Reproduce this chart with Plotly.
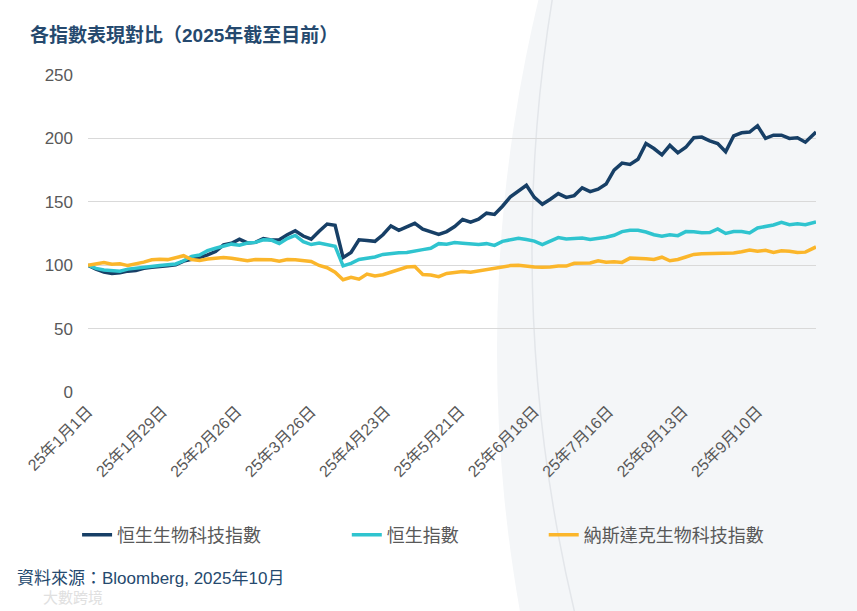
"""Index performance comparison, 2025 YTD (rebased to 100).

Hang Seng Biotech vs Hang Seng Index vs Nasdaq Biotech, written to out.html.
"""
import plotly.graph_objects as go

DATES = [
    "2025-01-01", "2025-01-04", "2025-01-07", "2025-01-10", "2025-01-13", "2025-01-16",
    "2025-01-19", "2025-01-22", "2025-01-25", "2025-01-28", "2025-01-31", "2025-02-03",
    "2025-02-06", "2025-02-09", "2025-02-12", "2025-02-15", "2025-02-18", "2025-02-21",
    "2025-02-24", "2025-02-27", "2025-03-02", "2025-03-05", "2025-03-08", "2025-03-11",
    "2025-03-14", "2025-03-17", "2025-03-20", "2025-03-23", "2025-03-26", "2025-03-29",
    "2025-04-01", "2025-04-04", "2025-04-07", "2025-04-10", "2025-04-13", "2025-04-16",
    "2025-04-19", "2025-04-22", "2025-04-25", "2025-04-28", "2025-05-01", "2025-05-04",
    "2025-05-07", "2025-05-10", "2025-05-13", "2025-05-16", "2025-05-19", "2025-05-22",
    "2025-05-25", "2025-05-28", "2025-05-31", "2025-06-03", "2025-06-06", "2025-06-09",
    "2025-06-12", "2025-06-15", "2025-06-18", "2025-06-21", "2025-06-24", "2025-06-27",
    "2025-06-30", "2025-07-03", "2025-07-06", "2025-07-09", "2025-07-12", "2025-07-15",
    "2025-07-18", "2025-07-21", "2025-07-24", "2025-07-27", "2025-07-30", "2025-08-02",
    "2025-08-05", "2025-08-08", "2025-08-11", "2025-08-14", "2025-08-17", "2025-08-20",
    "2025-08-23", "2025-08-26", "2025-08-29", "2025-09-01", "2025-09-04", "2025-09-07",
    "2025-09-10", "2025-09-13", "2025-09-16", "2025-09-19", "2025-09-22", "2025-09-25",
    "2025-09-28", "2025-10-02",
]

# 恒生生物科技指數
HS_BIOTECH = [
    100, 96.8, 94.5, 93.5, 94, 95.3, 95.8, 97.5, 98.4, 98.8, 99.5, 100.3,
    103.2, 104.6, 106, 108.2, 110.8, 116, 117.3, 120.5, 117.6, 118, 121, 119.8,
    120, 124, 127.2, 123, 120.5, 126.8, 132.5, 131.5, 106, 110, 120, 119.5,
    118.8, 124, 131, 127.5, 130, 133, 128.5, 126.5, 124.3, 126.5, 130.5, 136,
    134, 136.3, 141, 140, 146.5, 154, 158.5, 163, 153.5, 148, 152, 156.5,
    153.5, 154.9, 161, 158, 160, 164, 175, 180.5, 179.4, 183.5, 196, 192,
    187, 194.5, 188.6, 193, 200.5, 201, 198, 196, 189.5, 202, 204.4, 205,
    210, 200, 202.5, 202.5, 200, 200.5, 197, 205,
]

# 恒生指數
HSI = [
    100, 97.5, 96.2, 95.4, 95.3, 96.9, 97.6, 99, 99.6, 99.8, 100.4, 101,
    103.5, 107, 108, 111.5, 113.4, 115, 116.6, 115.8, 117.5, 118, 120, 119.8,
    117, 121, 123.5, 118.5, 116.3, 117.5, 116.5, 115, 99.5, 101.5, 104.5, 105.3,
    106.5, 108.5, 109.3, 109.8, 110.1, 111.5, 112.3, 113.3, 117, 116.5, 117.8, 117.3,
    116.8, 116.3, 117, 115.6, 118.8, 120.3, 121.3, 120.2, 119, 116.3, 119, 121.8,
    120.7, 120.8, 121.4, 120.2, 120.9, 122, 123.6, 126.5, 127.5, 127.5, 126.2, 124,
    122.8, 124, 123.3, 126.5, 126.3, 125.6, 125.8, 128.6, 125, 126.5, 126.5, 125.5,
    129.4, 130.3, 131.7, 133.8, 132, 132.6, 132, 134.1,
]

# 納斯達克生物科技指數
NASDAQ_BIOTECH = [
    100, 101.3, 102.1, 100.8, 101.2, 99.7, 100.8, 102.4, 104.3, 104.7, 104.4, 105.6,
    107.5, 104.5, 103.8, 104.9, 105.2, 106, 105.5, 104.6, 103.5, 104.4, 104.5, 104.3,
    103.1, 104.5, 104.3, 103.5, 103, 99.8, 98, 94.5, 88.5, 90.5, 89, 93,
    91.5, 92.5, 94.5, 97.2, 98.6, 98.9, 92.6, 92.2, 91, 93.5, 94.5, 95,
    94.4, 95.5, 96.6, 97.2, 98.5, 99.7, 100, 99.2, 98.6, 98.4, 98.5, 99.3,
    99.3, 101.5, 101.5, 101.7, 103.5, 102.4, 102.8, 102.2, 105.6, 105.5, 105, 104.5,
    106.3, 103.5, 104.5, 106.5, 108.5, 109, 109.2, 109.6, 109.2, 109.6, 110.6, 112,
    111, 111.7, 110.1, 111.3, 111, 110, 110.3, 114.4,
]

SERIES = [
    ("恒生生物科技指數", HS_BIOTECH, "#173f66"),
    ("恒生指數", HSI, "#2fc4cf"),
    ("納斯達克生物科技指數", NASDAQ_BIOTECH, "#fbb62b"),
]

TICK_DATES = ["2025-01-01", "2025-01-29", "2025-02-26", "2025-03-26", "2025-04-23",
              "2025-05-21", "2025-06-18", "2025-07-16", "2025-08-13", "2025-09-10"]
TICK_TEXT = ["25年1月1日", "25年1月29日", "25年2月26日", "25年3月26日", "25年4月23日",
             "25年5月21日", "25年6月18日", "25年7月16日", "25年8月13日", "25年9月10日"]

FONT = "Liberation Sans, Arial, Noto Sans CJK TC, sans-serif"
GREY = "#595959"
NAVY_TEXT = "#25496e"

# one legend per series so each entry sits where the original puts it (paper x)
LEGEND_X = [-0.015, 0.3555, 0.626]


def build():
    fig = go.Figure()
    legends = ["legend", "legend2", "legend3"]
    for (name, vals, color), lg in zip(SERIES, legends):
        fig.add_trace(go.Scatter(x=DATES, y=vals, mode="lines", name=name, legend=lg,
                                 line=dict(color=color, width=3.5)))

    # decorative grey backdrop on the right, plus a faint arc
    fig.add_shape(type="circle", xref="paper", yref="paper", layer="below",
                  x0=0.5618, x1=4.6827, y0=-4.5994, y1=4.8644,
                  fillcolor="#f4f6f8", line=dict(width=0))
    fig.add_shape(type="circle", xref="paper", yref="paper", layer="below",
                  x0=0.6099, x1=4.8956, y0=-4.4732, y1=5.369,
                  fillcolor="rgba(0,0,0,0)", line=dict(color="#e3e6ea", width=1.5))

    leg = dict(orientation="h", yanchor="middle", xanchor="left", y=-0.451,
               bgcolor="rgba(0,0,0,0)", font=dict(family=FONT, size=18, color=GREY))
    fig.update_layout(
        width=857, height=611,
        margin=dict(l=88, r=41, t=75, b=219),
        paper_bgcolor="white", plot_bgcolor="rgba(0,0,0,0)",
        font=dict(family=FONT, color=GREY),
        showlegend=True,
        legend=dict(leg, x=LEGEND_X[0]),
        legend2=dict(leg, x=LEGEND_X[1]),
        legend3=dict(leg, x=LEGEND_X[2]),
    )
    fig.update_xaxes(type="date", range=["2025-01-01", "2025-10-02"],
                     tickvals=TICK_DATES, ticktext=TICK_TEXT, tickangle=-45,
                     showgrid=False, zeroline=False, showline=False,
                     ticklabelstandoff=6, tickfont=dict(size=16, color=GREY))
    fig.update_yaxes(range=[0, 250], dtick=50, showgrid=True, gridcolor="#d9d9d9",
                     gridwidth=1, zeroline=False, showline=False,
                     ticklabelstandoff=14, tickfont=dict(size=17, color=GREY))

    fig.add_annotation(text="<b>各指數表現對比（2025年截至目前）</b>", xref="paper", yref="paper",
                       x=-0.0824, y=1.126, xanchor="left", yanchor="middle", showarrow=False,
                       font=dict(family=FONT, size=19, color=NAVY_TEXT))
    fig.add_annotation(text="資料來源：Bloomberg, 2025年10月", xref="paper", yref="paper",
                       x=-0.1003, y=-0.588, xanchor="left", yanchor="middle", showarrow=False,
                       font=dict(family=FONT, size=17, color=NAVY_TEXT))
    fig.add_annotation(text="大數跨境", xref="paper", yref="paper",
                       x=-0.065, y=-0.648, xanchor="left", yanchor="middle", showarrow=False,
                       font=dict(family=FONT, size=15, color="#e0e0e0"))
    return fig


if __name__ == "__main__":
    # drop the page's default 8px body margin so the figure fills the window
    build().write_html("out.html", config={"displayModeBar": False},
                       post_script="document.body.style.margin='0';")
